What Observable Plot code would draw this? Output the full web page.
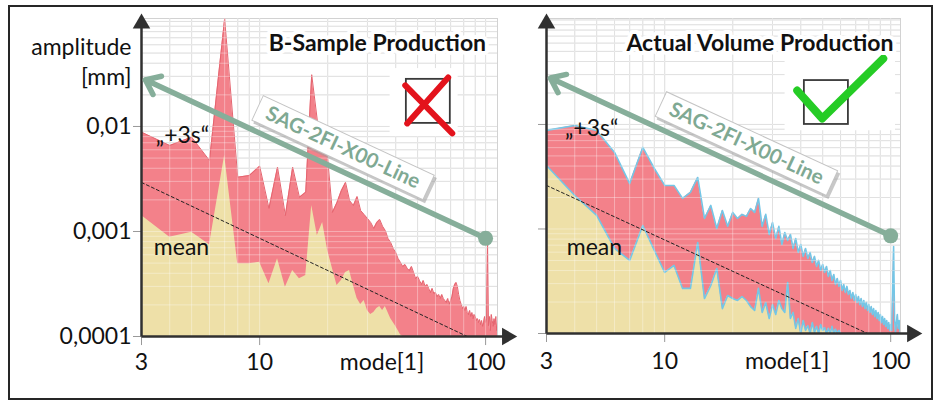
<!DOCTYPE html>
<html><head><meta charset="utf-8">
<script src="https://cdn.jsdelivr.net/npm/d3@7"></script>
<script src="https://cdn.jsdelivr.net/npm/@observablehq/plot@0.6"></script>
<style>
body{margin:0;background:#fff;}
#wrap{position:relative;width:939px;height:402px;overflow:hidden;font-family:Lato,sans-serif;}
#left,#right{position:absolute;top:0;}
#left{left:0}
#right{left:520px}
#border{position:absolute;left:8px;top:5px;width:921px;height:391px;border:2.5px solid #262626;pointer-events:none;}
</style></head>
<body><div id="wrap"><div id="left"></div><div id="right"></div><div id="border"></div></div>
<script>
// ---- axis ticks ----
const xTicks = [3, 10, 100];
const xTickLabels = ["3", "10", "100"];
const yTicks = [0.0001, 0.001, 0.01];
const yTickLabels = ["0,0001", "0,001", "0,01"];
const xGrid = [3,4,5,6,7,8,9,10,20,30,40,50,60,70,80,90,100];
const yGrid = [0.0001,0.0002,0.0003,0.0004,0.0005,0.0006,0.0007,0.0008,0.0009,
               0.001,0.002,0.003,0.004,0.005,0.006,0.007,0.008,0.009,
               0.01,0.02,0.03,0.04,0.05,0.06,0.07,0.08,0.09,0.1];

// ---- series: amplitude [mm] per mode, starting at mode 3 ----
const firstMode = 3;
const bSampleUpper = [
  0.00883,0.00659,0.00791,0.00474,0.106,0.00329,0.00341,0.00419,0.00166,0.00409,
  0.00142,0.00409,0.00212,0.00237,0.0311,0.0114,0.0102,0.00496,0.00152,0.00189,
  0.00245,0.00293,0.00197,0.00177,0.00215,0.00158,0.00145,0.00133,0.00122,0.00107,
  0.00122,0.0013,0.00112,0.00102,0.000858,0.000786,0.000689,0.000631,0.000553,0.000507,
  0.000464,0.000485,0.000444,0.000425,0.000464,0.000407,0.000357,0.000373,0.000341,0.000313,
  0.000341,0.000299,0.000313,0.000287,0.000262,0.000287,0.000257,0.000262,0.00024,0.000251,
  0.00023,0.000251,0.00023,0.00022,0.000211,0.00023,0.000202,0.00022,0.00024,0.000287,
  0.000313,0.000327,0.000299,0.000251,0.00022,0.000202,0.000185,0.000193,0.000177,0.000193,
  0.000169,0.000162,0.000177,0.000155,0.000169,0.000148,0.000162,0.000155,0.000142,0.000148,
  0.000136,0.000145,0.00013,0.000142,0.000125,0.000136,0.000155,0.000136,0.000148,0.00082,
  0.000127,0.000155,0.000114,0.000162,0.000142,0.000125,0.000148,0.00013,0.000155,0.000114,
  0.000136];
const bSampleMean = [
  0.00142,0.000883,0.000985,0.000747,0.00529,0.000492,0.000492,0.00051,0.000318,0.00055,
  0.000295,0.000425,0.000354,0.000381,0.00177,0.000916,0.00122,0.000659,0.000444,0.000306,
  0.000341,0.000407,0.000425,0.000306,0.00023,0.000202,0.00022,0.000177,0.000162,0.000169,
  0.000185,0.000193,0.000177,0.000193,0.000169,0.000148,0.000136,0.000125,0.000114,0.000104,
  0.0001];
const volumeUpper = [
  0.00877,0.00978,0.00877,0.0054,0.00272,0.00603,0.00379,0.00261,0.00261,0.00196,
  0.00224,0.00311,0.00126,0.00168,0.00101,0.0015,0.00106,0.00144,0.00126,0.00138,
  0.00132,0.00157,0.00144,0.00196,0.00106,0.00138,0.000886,0.00115,0.000811,0.00106,
  0.000711,0.000926,0.000776,0.000886,0.000651,0.000811,0.000596,0.000711,0.000546,0.000651,
  0.000522,0.000596,0.000478,0.000546,0.000438,0.0005,0.000401,0.000457,0.000384,0.000438,
  0.000351,0.000401,0.000321,0.000367,0.000294,0.000336,0.000282,0.000321,0.000258,0.000294,
  0.000247,0.000282,0.000236,0.000258,0.000216,0.000247,0.000207,0.000236,0.000198,0.000226,
  0.000189,0.000216,0.000181,0.000207,0.000173,0.000198,0.000166,0.000189,0.000159,0.000181,
  0.000152,0.000173,0.000145,0.000166,0.000139,0.000159,0.000133,0.000152,0.000127,0.000145,
  0.000122,0.000139,0.000117,0.000133,0.000112,0.000127,0.000107,0.000122,0.000107,0.000258,
  0.00068,0.000139,0.000102,0.000127,0.000152,0.000112,0.000133,0.000102];
const volumeMean = [
  0.00405,0.00209,0.00135,0.000651,0.0005,0.00108,0.000623,0.000384,0.000448,0.00027,
  0.00027,0.000743,0.000216,0.000288,0.000419,0.000173,0.000231,0.000216,0.000207,0.000226,
  0.000207,0.000181,0.000166,0.00027,0.000159,0.000198,0.000139,0.000189,0.000152,0.000207,
  0.000173,0.000159,0.000308,0.000139,0.000159,0.000112,0.000139,0.0001,0.000133,0.000107,
  0.000119,0.0001,0.000127,0.000102,0.000117,0.0001,0.000122,0.000107,0.000114,0.0001,
  0.000112,0.0001,0.000117,0.0001,0.00011,0.0001,0.000107,0.0001];

// dashed 1/mode reference and the limit line (amplitude vs mode)
const bSampleRef = [{mode: 3, amp: 0.00293}, {mode: 83, amp: 0.0001}];
const volumeRef = [{mode: 3, amp: 0.00261}, {mode: 79, amp: 0.0001}];
const limitLine = [{mode: 100, amp: 0.00086}, {mode: 3.12, amp: 0.0278}];
const lineLabel = "SAG-2FI-X00-Line";
const titles = ["B-Sample Production", "Actual Volume Production"];
const seriesLabels = ["\u201E+3s\u201C", "mean"];

const yLabelMap = new Map(yTicks.map((t, i) => [t, yTickLabels[i]]));
const xLabelMap = new Map(xTicks.map((t, i) => [t, xTickLabels[i]]));

const PINK = "#f3818a", BEIGE = "#eee0a8", SAGE = "#86ae9a", DARK = "#303030";
const FONT = "Lato, sans-serif";
const FS = 23;

function panel(o) {
  const yMin = yTicks[0];
  const up = o.upper.map((amp, i) => ({mode: firstMode + i, amp}));
  const mn = o.mean.map((amp, i) => ({mode: firstMode + i, amp}));
  const from = limitLine[0], to = limitLine[1];
  const k = o.labelK, c = o.labelMode, f = 2.4;
  const txt = {fontSize: FS, fontFamily: FONT, fill: "#111", lineAnchor: "middle"};
  const marks = [
    Plot.gridX(xGrid, {stroke: "#d2d2d2", strokeOpacity: 1}),
    Plot.gridY(yGrid, {stroke: "#d2d2d2", strokeOpacity: 1}),
    Plot.frame({stroke: "#d2d2d2"}),
    Plot.rect([o.boxBg], {x1: "x1", x2: "x2", y1: "y1", y2: "y2", fill: "white"}),
    Plot.areaY(up, {x: "mode", y1: () => yMin, y2: "amp", fill: PINK, clip: true}),
    Plot.line(up, {x: "mode", y: "amp", stroke: o.upperStroke, strokeWidth: o.strokeW, clip: true}),
    Plot.areaY(mn, {x: "mode", y1: () => yMin, y2: "amp", fill: BEIGE, clip: true}),
    o.meanStroke ? Plot.line(mn, {x: "mode", y: "amp", stroke: o.meanStroke, strokeWidth: o.strokeW, clip: true}) : null,
    Plot.gridX(xGrid, {stroke: "white", strokeOpacity: 0.35}),
    Plot.gridY(yGrid, {stroke: "white", strokeOpacity: 0.35}),
    Plot.line(o.ref, {x: "mode", y: "amp", stroke: "#222", strokeWidth: 1, strokeDasharray: "3,2.5", clip: true}),
    // x ticks and labels
    Plot.ruleX(xTicks, {x: d => d, y1: () => yMin, y2: () => yMin * 0.82, stroke: "#999"}),
    Plot.text(xTicks, {x: d => d, frameAnchor: "bottom", dy: o.xLabelDy, text: d => xLabelMap.get(d), ...txt}),
    Plot.axisY(yTicks, {tickSize: 8, tickPadding: 2, fontSize: FS, fontFamily: FONT, stroke: "#999", fill: "#111",
      tickFormat: d => o.yLabels ? yLabelMap.get(d) : "", label: null}),
    Plot.link([{x1: 3, y1: yMin, x2: 3, y2: o.yMax}], {x1: "x1", y1: "y1", x2: "x2", y2: "y2", stroke: DARK, strokeWidth: 2.5}),
    Plot.link([{x1: 3, y1: yMin, x2: 126, y2: yMin}], {x1: "x1", y1: "y1", x2: "x2", y2: "y2", stroke: DARK, strokeWidth: 2.5}),
    Plot.dot([{x: 3, y: o.yMax}], {x: "x", y: "y", symbol: "triangle", r: 6.5, fill: DARK, dy: 5}),
    Plot.dot([{x: 131, y: yMin}], {x: "x", y: "y", symbol: "triangle", r: 6.5, fill: DARK, rotate: 90, dx: -5}),
    // limit line
    Plot.arrow([{x1: from.mode, y1: from.amp, x2: to.mode, y2: to.amp}], {x1: "x1", y1: "y1", x2: "x2", y2: "y2",
      stroke: SAGE, strokeWidth: 5.5, headLength: 4.5, headAngle: 75}),
    Plot.dot([from], {x: "mode", y: "amp", r: 7.5, fill: SAGE}),
    // label box along the line
    Plot.link([{x1: c / f, y1: k * f / c, x2: c * f, y2: k / (c * f)}], {x1: "x1", y1: "y1", x2: "x2", y2: "y2",
      stroke: "#9a9a9a", strokeOpacity: 0.55, strokeWidth: 28, dx: 2, dy: 3}),
    Plot.link([{x1: c / f, y1: k * f / c, x2: c * f, y2: k / (c * f)}], {x1: "x1", y1: "y1", x2: "x2", y2: "y2",
      stroke: "#c4c4c4", strokeWidth: 28}),
    Plot.link([{x1: c / 2.38, y1: k * 2.38 / c, x2: c * 2.38, y2: k / (c * 2.38)}], {x1: "x1", y1: "y1", x2: "x2", y2: "y2",
      stroke: "white", strokeWidth: 26}),
    Plot.text([lineLabel], {x: () => c, y: () => k / c, text: d => d, rotate: 24.9, fontSize: 20.5, fontWeight: "bold",
      fontFamily: FONT, fill: "#7fa993"}),
    // checkbox
    Plot.rect([o.box], {x1: "x1", x2: "x2", y1: "y1", y2: "y2", fill: "none", stroke: "#3a3a3a", strokeWidth: 1.8}),
    ...o.mark,
    // texts
    Plot.text([o.title], {x: () => o.titlePos[0], y: () => o.titlePos[1], text: d => d, ...txt, fontWeight: "bold",
      stroke: "white", strokeWidth: 8, paintOrder: "stroke"}),
    Plot.text([seriesLabels[0]], {x: () => o.upPos[0], y: () => o.upPos[1], text: d => d, ...txt}),
    Plot.text([seriesLabels[1]], {x: () => o.meanPos[0], y: () => o.meanPos[1], text: d => d, ...txt}),
    Plot.text(["mode[1]"], {x: () => 34.8, frameAnchor: "bottom", dy: o.xLabelDy, ...txt}),
    o.yLabels ? Plot.text(["amplitude"], {frameAnchor: "top-left", textAnchor: "end", dx: -10, dy: 29, ...txt}) : null,
    o.yLabels ? Plot.text(["[mm]"], {frameAnchor: "top-left", textAnchor: "end", dx: -10, dy: 59, ...txt}) : null
  ].filter(Boolean);
  return Plot.plot({
    width: o.width, height: 402,
    marginLeft: o.marginLeft, marginRight: o.marginRight, marginTop: 18, marginBottom: o.marginBottom,
    x: {type: "log", domain: [3, o.xMax], axis: null},
    y: {type: "log", domain: [yMin, o.yMax]},
    style: {fontFamily: FONT, background: "transparent", overflow: "visible"},
    marks
  });
}

const leftPlot = panel({
  width: 520, marginLeft: 141, marginRight: 23, marginBottom: 66, xMax: 112.9, yMax: 0.1067, xLabelDy: 26,
  upper: bSampleUpper, mean: bSampleMean, ref: bSampleRef,
  upperStroke: "#e5646f", meanStroke: null, strokeW: 1,
  labelK: 0.147, labelMode: 23.4, yLabels: true, title: titles[0], titlePos: [33.2, 0.0617],
  upPos: [4.55, 0.0082], meanPos: [4.51, 0.000704],
  boxBg: {x1: 37.8, x2: 75.6, y1: 0.00801, y2: 0.0356},
  box: {x1: 44.6, x2: 69.8, y1: 0.0107, y2: 0.0281},
  mark: [
    Plot.link([{x1: 44.1, y1: 0.0246, x2: 71.2, y2: 0.0086}, {x1: 68.3, y1: 0.0293, x2: 45.0, y2: 0.0107}],
      {x1: "x1", y1: "y1", x2: "x2", y2: "y2", stroke: "#e3131c", strokeWidth: 6, strokeLinecap: "round"})
  ]
});
const rightPlot = panel({
  width: 419, marginLeft: 26, marginRight: 39, marginBottom: 69, xMax: 110.5, yMax: 0.1032, xLabelDy: 28,
  upper: volumeUpper, mean: volumeMean, ref: volumeRef,
  upperStroke: "#74c6e6", meanStroke: "#74c6e6", strokeW: 1.6,
  labelK: 0.151, labelMode: 23.0, yLabels: false, title: titles[1], titlePos: [26.4, 0.0596],
  upPos: [4.75, 0.00916], meanPos: [4.89, 0.000665],
  boxBg: {x1: 34.1, x2: 105, y1: 0.0087, y2: 0.0512},
  box: {x1: 41.5, x2: 65.0, y1: 0.0100, y2: 0.0263},
  mark: [
    Plot.line([{x: 38.6, y: 0.0211}, {x: 49.8, y: 0.0114}, {x: 92.7, y: 0.0427}],
      {x: "x", y: "y", stroke: "#25cc25", strokeWidth: 8, strokeLinejoin: "round", strokeLinecap: "round"})
  ]
});
document.getElementById("left").append(leftPlot);
document.getElementById("right").append(rightPlot);
</script>
</body></html>
